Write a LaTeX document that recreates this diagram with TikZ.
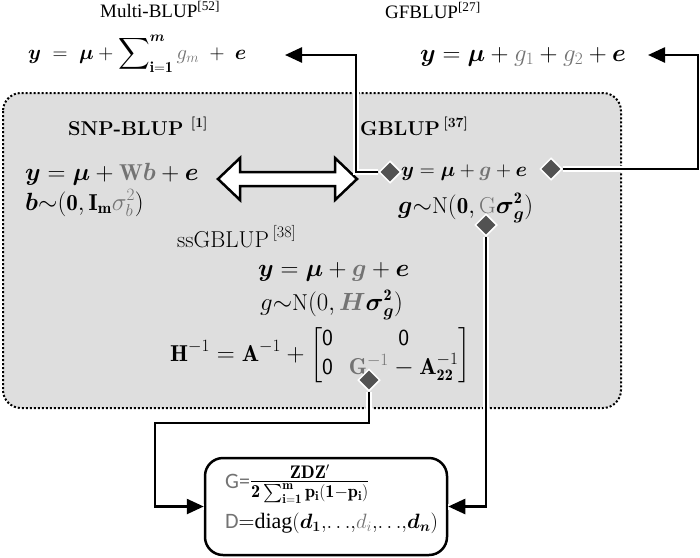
\documentclass[tikz,border=0pt]{standalone}
\usepackage{fontspec}
\usepackage{amsmath,amssymb}
\usepackage{xcolor}
\usetikzlibrary{shapes.geometric,arrows.meta}
\newfontfamily\timesf{Liberation Serif}
\newfontfamily\calib{Carlito}
\colorlet{tgray}{black!55}
\colorlet{boxgray}{black!13}
\tikzstyle{every node}=[font=\fontsize{23}{27}\selectfont, inner sep=0pt]
\tikzstyle{title}=[anchor=base west, font=\timesf\fontsize{19}{23}\selectfont]
\tikzstyle{head}=[anchor=base west, font=\fontsize{20}{24}\selectfont\bfseries]
\tikzstyle{eq}=[anchor=base west]
\tikzstyle{knot}=[diamond, fill=black!68, draw=white, line width=1.5pt, minimum size=22pt]
\tikzstyle{conn}=[line width=2.5pt, -{Triangle[length=17pt,width=15pt]}, preaction={draw=white, line width=6pt, -}]

\begin{document}
\begin{tikzpicture}[x=1pt,y=-1pt]
\useasboundingbox (0,0) rectangle (700,557);
% shared box of the single-kernel models
\filldraw[fill=boxgray, line width=2pt, dash pattern=on 2pt off 2pt, rounded corners=18pt] (3,93) rectangle (621,408);

% top models
\node[title] (mbt) at (100,17) {Multi-BLUP\textsuperscript{[52]}};
\node[eq, font=\fontsize{22}{26}\selectfont] (mbeq) at (28,59) {$\boldsymbol{y}\;=\;\boldsymbol{\mu}+\displaystyle\sum\nolimits_{\mathbf{i=1}}^{\boldsymbol{m}}{\color{tgray}g_m}\;+\;\boldsymbol{e}$};
\node[title] (gft) at (385,18) {GFBLUP\textsuperscript{[27]}};
\node[eq] (gfeq) at (420,61) {$\boldsymbol{y}=\boldsymbol{\mu}+{\color{tgray}g_1}+{\color{tgray}g_2}+\boldsymbol{e}$};

% SNP-BLUP and GBLUP
\node[head] (snpt) at (68,135) {SNP-BLUP \textsuperscript{[1]}};
\node[eq] (snp1) at (25,180) {$\boldsymbol{y}=\boldsymbol{\mu}+{\color{tgray}\mathbf{W}\boldsymbol{b}}+\boldsymbol{e}$};
\node[eq] (snp2) at (25,210) {$\boldsymbol{b}{\sim}(\mathbf{0},\mathbf{I}_{\mathbf{m}}{\color{tgray}\sigma_b^2})$};
\node[head] (gbt) at (360,135) {GBLUP\,\textsuperscript{[37]}};
\node[eq, font=\fontsize{22}{26}\selectfont] (gb1) at (401,176) {$\boldsymbol{y}=\boldsymbol{\mu}+{\color{tgray}\boldsymbol{g}}+\boldsymbol{e}$};
\node[eq] (gb2) at (398,213) {$\boldsymbol{g}{\sim}\mathrm{N}(\mathbf{0},{\color{tgray}\mathrm{G}}\boldsymbol{\sigma}_{\boldsymbol{g}}^{\mathbf{2}})$};

% ssGBLUP
\node[title, font=\fontsize{23}{27}\selectfont] (sst) at (177,247) {ssGBLUP\,\textsuperscript{[38]}};
\node[eq] (ss1) at (258,276) {$\boldsymbol{y}=\boldsymbol{\mu}+{\color{tgray}\boldsymbol{g}}+\boldsymbol{e}$};
\node[eq] (ss2) at (260,310) {$g{\sim}\mathrm{N}(0,{\color{tgray}\boldsymbol{H}}\boldsymbol{\sigma}_{\boldsymbol{g}}^{\mathbf{2}})$};
\node[eq] (ss3) at (170,361) {\setlength\arraycolsep{8pt}$\mathbf{H}^{-1}=\mathbf{A}^{-1}+\begin{bmatrix}\mathsf{0}&\mathsf{0}\\\mathsf{0}&{\color{tgray}\mathbf{G}^{-1}}-\mathbf{A}_{\mathbf{22}}^{-1}\end{bmatrix}$};

% hollow two-way arrow
\draw[line width=2.5pt, fill=white, line join=miter] (218,179) -- (240,158) -- (240,172) -- (335,172) -- (335,158) -- (357,179) -- (335,200) -- (335,186) -- (240,186) -- (240,200) -- cycle;

% kernel box
\node[draw, line width=2.5pt, rounded corners=18pt, fill=white, minimum width=242pt, minimum height=97pt] (kern) at (326,506.5) {};
\node[eq, font=\fontsize{26}{30}\selectfont] (gform) at (225,488) {{\fontsize{22}{26}\selectfont\calib\color{tgray}G=}$\frac{\mathbf{ZDZ'}}{\mathbf{2}\sum_{\mathbf{i=1}}^{\mathbf{m}}\mathbf{p_i(1-p_i)}}$};
\node[eq, font=\fontsize{22}{26}\selectfont] (dform) at (225,528) {{\calib\color{tgray}D}={\timesf diag}$(\boldsymbol{d_1}{,}{\ldots}{,}{\color{tgray}d_i}{,}{\ldots}{,}\boldsymbol{d_n})$};

% joints
\node[knot] (dL) at (390,172) {};
\node[knot] (dR) at (551,169) {};
\node[knot] (dG) at (486,225) {};
\node[knot] (dS) at (369,380) {};
\coordinate (mbtip) at (285,55);
\coordinate (gftip) at (648,55);

\draw[conn] (dL.west) -- (356,172) |- (mbtip);
\draw[conn] (dR.east) -- (698,169) |- (gftip);
\draw[conn] (dG.south) |- (kern.east);
\draw[conn] (dS.south) |- (155,423) |- (kern.west);
\end{tikzpicture}
\end{document}
